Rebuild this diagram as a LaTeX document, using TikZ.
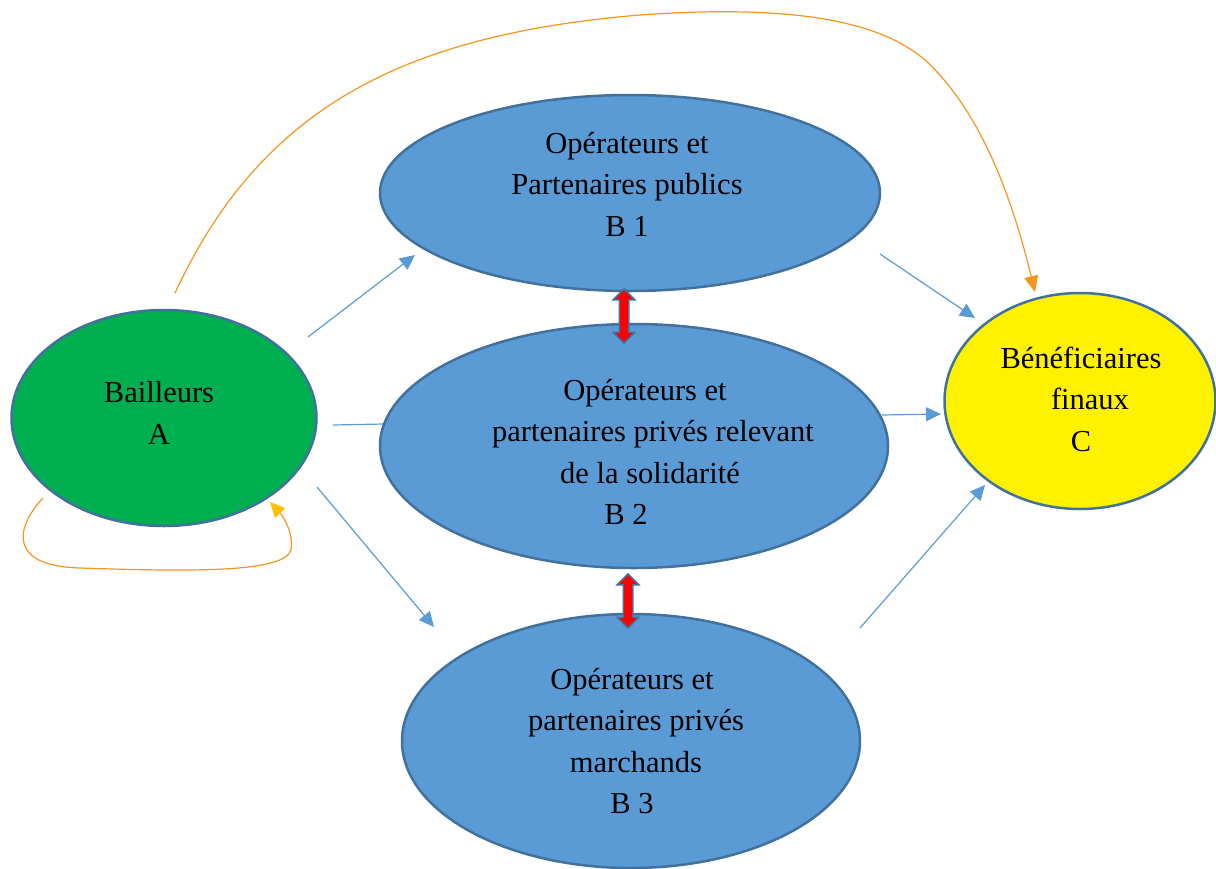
\documentclass[tikz,border=0pt]{standalone}
\usepackage{fontspec}
\setmainfont{Liberation Serif}
\usetikzlibrary{shapes.geometric,shapes.arrows,arrows.meta}
\definecolor{blueFill}{HTML}{5B9BD5}
\definecolor{edgeBlue}{HTML}{41719C}
\definecolor{greenFill}{HTML}{00B050}
\definecolor{arrBlue}{HTML}{5B9BD5}
\definecolor{orangeL}{HTML}{F7941D}
\definecolor{goldL}{HTML}{FFC000}
\tikzset{
  oval/.style={ellipse, draw=edgeBlue, line width=2.5pt, inner sep=0pt},
  txt/.style={align=center, inner sep=0pt, font=\fontsize{30.5}{41.5}\selectfont},
  flow/.style={draw=arrBlue, line width=1.2pt, -{Triangle[length=15pt,width=14pt]}},
  link/.style={draw=arrBlue, line width=1.2pt},
  dbl/.style={double arrow, rotate=90, fill=red, draw=edgeBlue, line width=1.5pt,
    inner sep=4pt, minimum height=54pt, double arrow head extend=6pt},
  orangeCurve/.style={draw=orangeL, line width=1.2pt}
}
\begin{document}
\begin{tikzpicture}[x=1pt,y=-1pt]
\useasboundingbox (0,0) rectangle (1216,868);
% coordinates for free connector ends
\coordinate (a1s) at (308,337); \coordinate (a1e) at (415,255);
\coordinate (a2s) at (333,425); \coordinate (a2e) at (384,424);
\coordinate (a3s) at (317,487); \coordinate (a3e) at (434,627);
\coordinate (c1s) at (880,254); \coordinate (c1e) at (975,318);
\coordinate (c2s) at (882,415); \coordinate (c2e) at (941,414);
\coordinate (c3s) at (860,628); \coordinate (c3e) at (985,485);
\coordinate (os) at (175,293); \coordinate (oe) at (1035,292);
\coordinate (ls) at (43,498); \coordinate (le) at (270,502);

\draw[link] (a2s) -- (a2e);

\node[oval, fill=greenFill, minimum width=305pt, minimum height=216pt] (A) at (164,418) {};
\node[oval, fill=blueFill, minimum width=500pt, minimum height=196pt] (B1) at (630,193) {};
\node[oval, fill=blueFill, minimum width=508pt, minimum height=244pt] (B2) at (634,446) {};
\node[oval, fill=blueFill, minimum width=458pt, minimum height=254pt] (B3) at (631,741) {};
\node[oval, fill=yellow, minimum width=271pt, minimum height=216pt] (C) at (1080,401) {};

\node[txt] (At) at (159,413) {Bailleurs\\A};
\node[txt] (B1t) at (627,184) {Opérateurs et\\Partenaires publics\\B 1};
\node[txt] (B2t) at (645,452) {Opérateurs et\\\hspace*{16pt}partenaires privés relevant\\\hspace*{10pt}de la solidarité\\B 2\hspace*{38pt}};
\node[txt] (B3t) at (632,741) {Opérateurs et\\\hspace*{8pt}partenaires privés\\\hspace*{8pt}marchands\\B 3};
\node[txt] (Ct) at (1081,399) {Bénéficiaires\\\hspace*{18pt}finaux\\C};

\draw[flow] (a1s) -- (a1e);
\draw[flow] (a3s) -- (a3e);
\draw[flow] (c1s) -- (c1e);
\draw[flow] (c2s) -- (c2e);
\draw[flow] (c3s) -- (c3e);

\node[dbl] (R1) at (624,316) {};
\node[dbl] (R2) at (628,601) {};

\draw[orangeCurve, -{Triangle[length=16pt,width=14pt]}] (os)
  .. controls (260,110) and (400,35) .. (640,15)
  .. controls (820,2) and (890,30) .. (925,60)
  .. controls (985,115) and (1015,210) .. (oe);

\draw[orangeCurve, -{Triangle[length=15pt,width=14pt,color=goldL]}] (ls)
  .. controls (15,528) and (8,566) .. (80,568)
  .. controls (200,572) and (284,572) .. (291,550)
  .. controls (294,532) and (282,515) .. (le);
\end{tikzpicture}
\end{document}
